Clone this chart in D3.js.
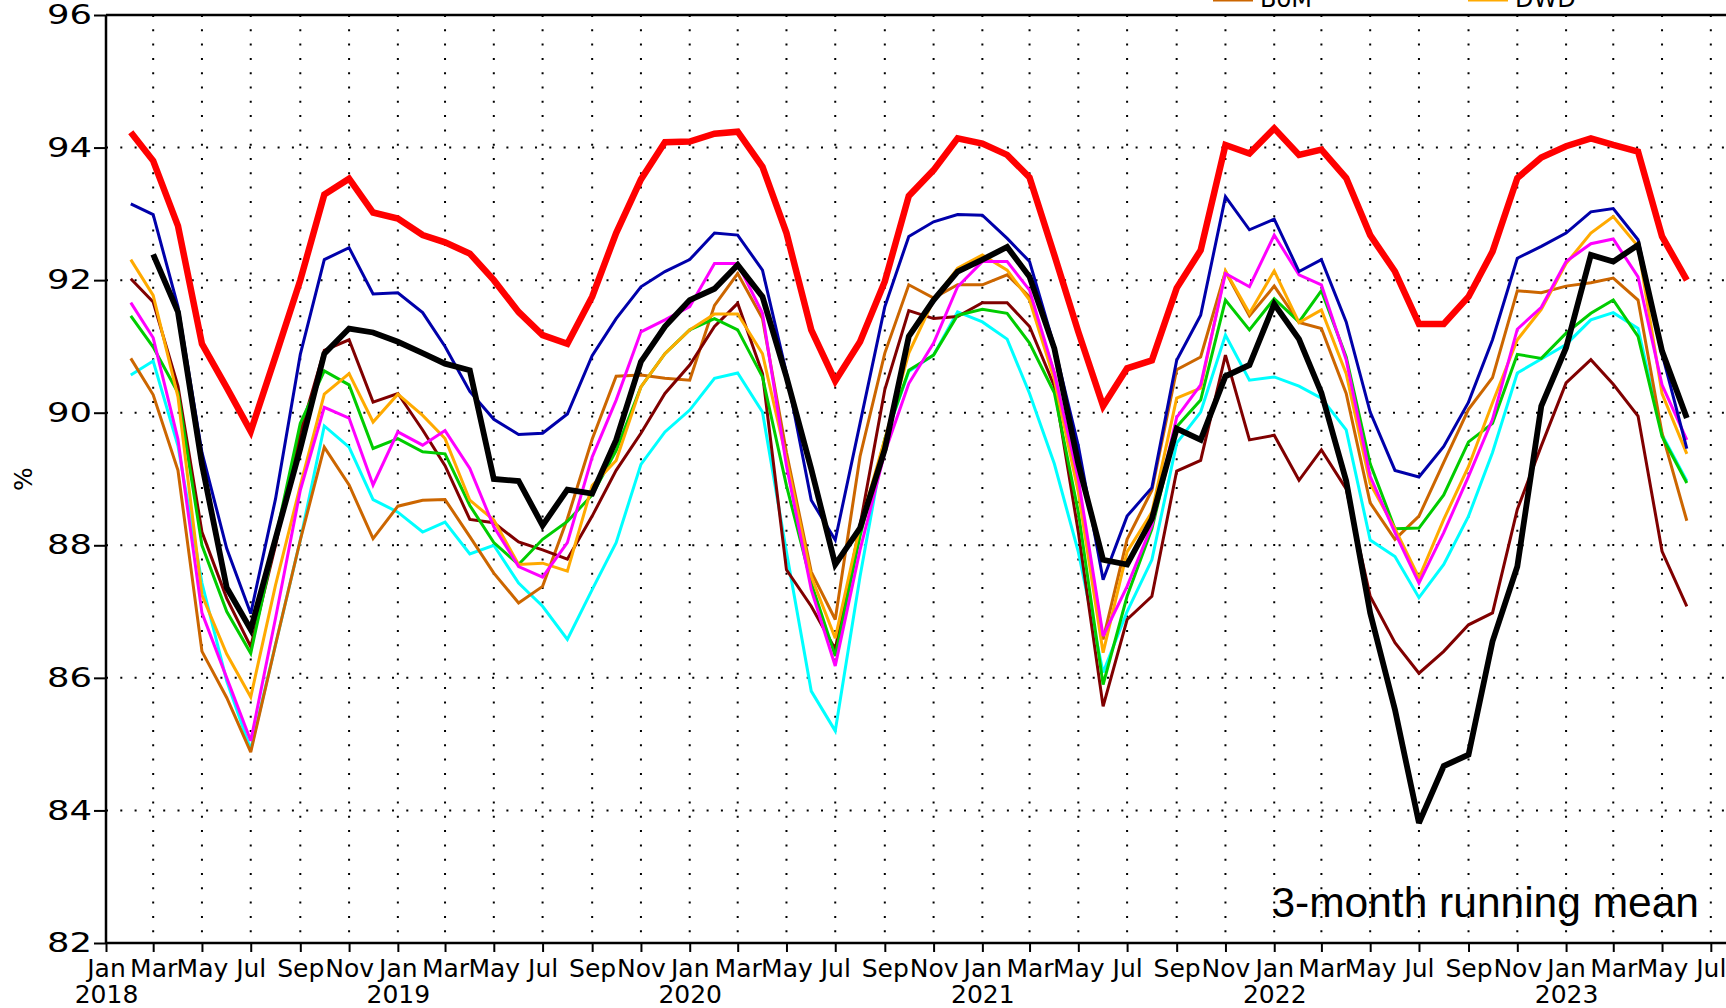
<!DOCTYPE html>
<html>
<head>
<meta charset="utf-8">
<script src="https://cdn.jsdelivr.net/npm/d3@7/dist/d3.min.js"></script>
<style>
  body { margin: 0; background: #fff; }
  svg { display: block; }
  text { font-family: "DejaVu Sans", sans-serif; }
</style>
</head>
<body>
<svg id="chart" width="1726" height="1008"></svg>
<script>
// monthly points, Feb 2018 .. Jun 2023 (3-month running mean)
var months = d3.timeMonths(new Date(2018, 1, 1), new Date(2023, 6, 1));

var yTicks = [82, 84, 86, 88, 90, 92, 94, 96];

var redSeries = [
  94.23, 93.8, 92.82, 91.04, 90.38, 89.72, 90.85, 92.0, 93.29, 93.53, 93.02,
  92.93, 92.68, 92.57, 92.4, 92.0, 91.52, 91.17, 91.04, 91.75, 92.71, 93.52, 94.08,
  94.09, 94.21, 94.24, 93.71, 92.71, 91.25, 90.48, 91.07, 91.98, 93.27, 93.66, 94.14,
  94.06, 93.89, 93.55, 92.38, 91.22, 90.1, 90.67, 90.79, 91.88, 92.45, 94.04, 93.91,
  94.29, 93.89, 93.97, 93.54, 92.68, 92.13, 91.34, 91.34, 91.75, 92.43, 93.54, 93.85,
  94.02, 94.14, 94.04, 93.94, 92.66, 92.0
];
var blueSeries = [
  93.15, 92.99, 91.6, 89.4, 87.95, 86.97, 88.7, 90.88, 92.31, 92.49, 91.79,
  91.81, 91.51, 91.0, 90.32, 89.9, 89.67, 89.69, 89.98, 90.86, 91.42, 91.9, 92.13,
  92.31, 92.71, 92.68, 92.15, 90.6, 88.68, 88.08, 89.84, 91.6, 92.66, 92.88, 92.99,
  92.98, 92.63, 92.28, 91.0, 89.5, 87.48, 88.44, 88.87, 90.79, 91.47, 93.26, 92.76,
  92.92, 92.13, 92.31, 91.37, 90.01, 89.13, 89.03, 89.49, 90.16, 91.1, 92.33, 92.51,
  92.71, 93.03, 93.08, 92.61, 90.89, 89.46
];
var blackSeries = [
  null, 92.39, 91.52, 89.22, 87.36, 86.73, 88.1, 89.46, 90.89, 91.27, 91.21,
  91.07, 90.9, 90.74, 90.64, 89.0, 88.97, 88.3, 88.84, 88.78, 89.59, 90.77, 91.3,
  91.7, 91.87, 92.23, 91.75, 90.54, 89.15, 87.71, 88.26, 89.45, 91.15, 91.7, 92.13,
  92.31, 92.5, 92.05, 90.97, 89.23, 87.78, 87.71, 88.4, 89.76, 89.59, 90.55, 90.72,
  91.64, 91.11, 90.3, 88.97, 86.98, 85.52, 83.81, 84.67, 84.84, 86.55, 87.68, 90.1,
  90.98, 92.38, 92.28, 92.53, 90.93, 89.92
];
var maroonSeries = [
  92.02, 91.67, 90.4, 88.2, 87.2, 86.47, 88.0, 89.7, 90.94, 91.1, 90.16,
  90.29, 89.74, 89.2, 88.39, 88.34, 88.05, 87.93, 87.79, 88.44, 89.13, 89.69, 90.29,
  90.72, 91.3, 91.65, 90.59, 87.63, 87.08, 86.43, 88.3, 90.35, 91.54, 91.42, 91.45,
  91.66, 91.66, 91.3, 90.4, 88.2, 85.57, 86.88, 87.23, 89.12, 89.28, 90.87, 89.59,
  89.66, 88.98, 89.44, 88.85, 87.23, 86.53, 86.07, 86.4, 86.8, 86.98, 88.54, 89.5,
  90.45, 90.8, 90.43, 89.95, 87.91, 87.08
];
var greenSeries = [
  91.46, 90.99, 90.3, 88.0, 87.0, 86.37, 88.1, 89.84, 90.63, 90.42, 89.46,
  89.61, 89.41, 89.38, 88.6, 88.04, 87.71, 88.09, 88.36, 88.76, 89.43, 90.39, 90.89,
  91.25, 91.42, 91.25, 90.54, 88.9, 87.43, 86.33, 88.14, 89.6, 90.64, 90.87, 91.47,
  91.56, 91.5, 91.05, 90.3, 88.5, 85.9, 87.23, 88.25, 89.79, 90.19, 91.7, 91.25,
  91.72, 91.37, 91.84, 90.84, 89.23, 88.25, 88.26, 88.76, 89.56, 89.84, 90.88, 90.82,
  91.2, 91.5, 91.7, 91.15, 89.64, 88.94
];
var dwd = [
  92.31, 91.77, 90.24, 87.25, 86.36, 85.71, 87.4, 88.9, 90.28, 90.59, 89.86,
  90.28, 89.96, 89.61, 88.68, 88.38, 87.71, 87.73, 87.61, 88.9, 89.28, 90.39, 90.89,
  91.25, 91.49, 91.49, 90.89, 89.3, 87.53, 86.6, 88.29, 89.6, 90.9, 91.7, 92.18,
  92.38, 92.15, 91.7, 90.5, 88.8, 86.38, 87.9, 88.5, 90.22, 90.37, 92.14, 91.5,
  92.14, 91.36, 91.55, 90.59, 88.93, 88.25, 87.51, 88.39, 89.19, 90.15, 91.1, 91.56,
  92.25, 92.71, 92.96, 92.51, 90.29, 89.38
];
var magentaSeries = [
  91.66, 91.13, 89.6, 86.98, 86.0, 85.05, 86.9, 88.83, 90.08, 89.92, 88.91,
  89.71, 89.51, 89.73, 89.16, 88.28, 87.68, 87.52, 88.04, 89.33, 90.19, 91.22, 91.4,
  91.6, 92.25, 92.25, 91.5, 89.2, 87.33, 86.18, 87.93, 89.4, 90.44, 91.05, 91.9,
  92.28, 92.28, 91.85, 90.6, 89.0, 86.63, 87.38, 88.3, 89.93, 90.42, 92.1, 91.9,
  92.68, 92.08, 91.93, 90.8, 89.04, 88.19, 87.43, 88.19, 89.04, 89.9, 91.26, 91.59,
  92.28, 92.55, 92.62, 92.05, 90.42, 89.59
];
var cyanSeries = [
  90.57, 90.78, 89.5, 87.43, 85.95, 84.92, 86.5, 88.08, 89.8, 89.48, 88.69,
  88.5, 88.2, 88.35, 87.87, 88.0, 87.43, 87.08, 86.58, 87.33, 88.04, 89.22, 89.71,
  90.04, 90.52, 90.6, 90.01, 87.9, 85.8, 85.2, 87.53, 89.6, 90.62, 90.87, 91.52,
  91.37, 91.11, 90.29, 89.23, 87.9, 86.08, 87.0, 87.78, 89.54, 90.01, 91.17, 90.49,
  90.54, 90.4, 90.22, 89.74, 88.08, 87.83, 87.21, 87.71, 88.44, 89.4, 90.6, 90.81,
  91.03, 91.4, 91.51, 91.27, 89.67, 88.97
];
var bom = [
  90.82, 90.27, 89.13, 86.4, 85.7, 84.88, 86.5, 88.08, 89.48, 88.91, 88.1,
  88.59, 88.68, 88.69, 88.13, 87.58, 87.13, 87.38, 88.4, 89.6, 90.55, 90.57, 90.52,
  90.49, 91.62, 92.1, 91.42, 89.4, 87.6, 86.88, 89.34, 90.9, 91.93, 91.73, 91.93,
  91.93, 92.08, 91.75, 90.6, 88.9, 86.58, 88.09, 88.83, 90.65, 90.84, 92.13, 91.46,
  91.91, 91.36, 91.27, 90.29, 88.64, 88.09, 88.44, 89.25, 90.05, 90.53, 91.84, 91.81,
  91.91, 91.96, 92.03, 91.7, 89.69, 88.37
];

// drawing order: thin lines first, the two thick ones on top
var series = [
  { values: cyanSeries, color: "#00ffff", width: 3 },
  { values: bom, color: "#cc6600", width: 3 },
  { values: maroonSeries, color: "#800000", width: 3 },
  { values: greenSeries, color: "#00cc00", width: 3 },
  { values: dwd, color: "#ffaa00", width: 3 },
  { values: magentaSeries, color: "#ff00ff", width: 3 },
  { values: blueSeries, color: "#0000aa", width: 3 },
  { values: blackSeries, color: "#000000", width: 5.8 },
  { values: redSeries, color: "#ff0000", width: 6.5 }
];

var svg = d3.select("#chart");
var plotLeft = 106, plotTop = 15, plotBottom = 943;

var x = d3.scaleTime()
  .domain([new Date(2018, 0, 1), new Date(2023, 7, 1)])
  .range([plotLeft, 1735.6]);
var y = d3.scaleLinear().domain([82, 96]).range([plotBottom, plotTop]);

var tickDates = d3.timeMonth.every(2).range(new Date(2018, 0, 1), new Date(2023, 7, 1));

// dotted grid
svg.append("g").selectAll("line").data(tickDates.slice(1)).join("line")
  .attr("x1", d => x(d)).attr("x2", d => x(d))
  .attr("y1", plotTop).attr("y2", plotBottom)
  .attr("stroke", "#000").attr("stroke-width", 2)
  .attr("stroke-dasharray", "2 12.3");
svg.append("g").selectAll("line").data(yTicks).join("line")
  .attr("x1", plotLeft).attr("x2", 1726)
  .attr("y1", d => y(d)).attr("y2", d => y(d))
  .attr("stroke", "#000").attr("stroke-width", 2)
  .attr("stroke-dasharray", "2 12.3");

// lines
var line = d3.line()
  .defined(d => d[1] != null)
  .x(d => x(d[0]))
  .y(d => y(d[1]));

svg.append("g").selectAll("path").data(series).join("path")
  .attr("d", s => line(months.map((m, i) => [m, s.values[i]])))
  .attr("fill", "none")
  .attr("stroke", s => s.color)
  .attr("stroke-width", s => s.width)
  .attr("stroke-linejoin", "miter")
  .attr("stroke-miterlimit", 3);

// axes
var xAxis = d3.axisBottom(x).tickValues(tickDates).tickSize(9)
  .tickFormat(d3.timeFormat("%b"));
var gx = svg.append("g").attr("transform", "translate(0," + plotBottom + ")").call(xAxis);
gx.select(".domain").attr("d", "M" + plotLeft + ",0H1726");
gx.selectAll(".tick line").attr("stroke-width", 2);
gx.selectAll(".tick text").attr("dy", null).attr("y", 34)
  .style("font-size", "25px").attr("fill", "#000");
gx.selectAll(".tick").filter(d => d.getMonth() === 0).append("text")
  .attr("y", 60).attr("fill", "#000").attr("text-anchor", "middle")
  .style("font-size", "25px")
  .text(d => d.getFullYear());

var yAxis = d3.axisLeft(y).tickValues(yTicks).tickSize(12).tickPadding(2);
var gy = svg.append("g").attr("transform", "translate(" + plotLeft + ",0)").call(yAxis);
gy.select(".domain").attr("d", "M0," + plotTop + "V" + plotBottom);
gy.selectAll(".tick line").attr("stroke-width", 2);
gy.selectAll(".tick text")
  .style("font-size", "27px").attr("fill", "#000")
  .attr("textLength", 45).attr("lengthAdjust", "spacingAndGlyphs");

svg.selectAll(".domain").attr("stroke", "#000").attr("stroke-width", 2.5);

// top frame line
svg.append("line").attr("x1", plotLeft).attr("x2", 1726).attr("y1", plotTop).attr("y2", plotTop)
  .attr("stroke", "#000").attr("stroke-width", 2.5);

// y label
svg.append("text")
  .attr("transform", "translate(32,479) rotate(-90)")
  .attr("text-anchor", "middle")
  .style("font-size", "25px")
  .text("%");

// annotation
svg.append("text")
  .attr("x", 1699).attr("y", 917)
  .attr("text-anchor", "end")
  .style("font-family", "'Liberation Sans', Arial, sans-serif")
  .style("font-size", "42.5px")
  .text("3-month running mean");

// legend (mostly above the picture)
var legendItems = [
  { label: "BoM", color: "#cc6600", x: 1213 },
  { label: "DWD", color: "#ffaa00", x: 1468 }
];
var lg = svg.append("g").selectAll("g").data(legendItems).join("g")
  .attr("transform", d => "translate(" + d.x + ",0)");
lg.append("line").attr("x1", 0).attr("x2", 40).attr("y1", 0).attr("y2", 0)
  .attr("stroke", d => d.color).attr("stroke-width", 3);
lg.append("text").attr("x", 47).attr("y", 7)
  .style("font-size", "24px").text(d => d.label);
</script>
</body>
</html>
